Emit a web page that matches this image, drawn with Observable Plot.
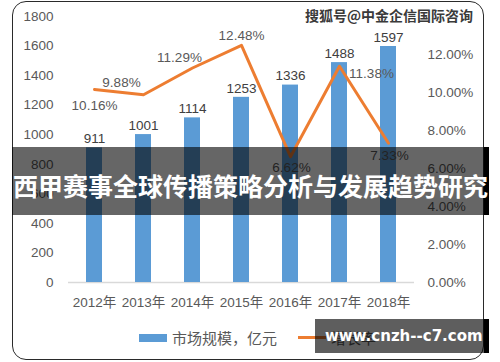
<!DOCTYPE html>
<html><head><meta charset="utf-8">
<script src="https://cdn.jsdelivr.net/npm/d3@7"></script>
<script src="https://cdn.jsdelivr.net/npm/@observablehq/plot@0.6"></script>
<style>
body{margin:0;background:#fff;}
#wrap{position:relative;width:500px;height:362px;overflow:hidden;font-family:"Liberation Sans","Noto Sans CJK SC",sans-serif;}
#frame{position:absolute;left:12px;top:1px;width:472px;height:359px;box-sizing:border-box;border:1.5px solid #2a2a2a;border-radius:14px;}
#chart{position:absolute;left:0;top:0;}
.ov{position:absolute;background:rgba(0,0,0,0.6);}
.blk{position:absolute;background:#000;}
#banner-text{position:absolute;left:13px;top:171px;line-height:28px;font-size:25px;font-weight:bold;color:#fff;font-family:"Noto Sans CJK SC",sans-serif;white-space:nowrap;}
#wm-top{position:absolute;left:305px;top:6px;font-size:14px;font-weight:bold;color:#3a3a3a;font-family:"Noto Sans CJK SC",sans-serif;white-space:nowrap;line-height:18px;background:#fff;text-shadow:-1px 0 #fff,1px 0 #fff,0 -1px #fff,0 1px #fff;}
#wm-bot{position:absolute;left:325px;top:326px;font-size:15px;font-weight:bold;color:#fff;font-family:"DejaVu Sans",sans-serif;white-space:nowrap;line-height:20px;}
.lg{position:absolute;font-size:15px;color:#595959;font-family:"Noto Sans CJK SC",sans-serif;line-height:20px;white-space:nowrap;}
</style>
</head><body>
<div id="wrap">
  <div id="frame"></div>
  <div id="chart"></div>
  <div style="position:absolute;left:139px;top:334px;width:28px;height:8px;background:#5B9BD5"></div>
  <div class="lg" style="left:172px;top:328px;">市场规模，亿元</div>
  <div style="position:absolute;left:298px;top:336px;width:28px;height:3px;background:#ED7D31"></div>
  <div class="lg" style="left:331px;top:328px;">增长率</div>
  <div class="ov" style="left:12px;top:147px;width:472px;height:68px;"></div>
  <div class="blk" style="left:484px;top:147px;width:5px;height:68px;"></div>
  <div id="banner-text">西甲赛事全球传播策略分析与发展趋势研究</div>
  <div id="wm-top">搜狐号@中金企信国际咨询</div>
  <div class="ov" style="left:315px;top:319px;width:169px;height:34px;background:rgba(0,0,0,0.63)"></div>
  <div class="blk" style="left:484px;top:319px;width:5px;height:34px;"></div>
  <div id="wm-bot">www.cnzh--c7.com</div>
</div>
<script>
const years = ["2012年","2013年","2014年","2015年","2016年","2017年","2018年"];
const marketSize = [911, 1001, 1114, 1253, 1336, 1488, 1597];
const growthRate = [10.16, 9.88, 11.29, 12.48, 6.62, 11.38, 7.33];
const leftTicks = [0, 200, 400, 600, 800, 1000, 1200, 1400, 1600, 1800];
const rightTicks = [0, 2, 4, 6, 8, 10, 12];
const rightMax = 14;

const k = 1800 / rightMax; // maps percent onto the left-axis units
const data = years.map((y, i) => ({year: y, size: marketSize[i], rate: growthRate[i]}));

// label placement for each growth-rate label (dx, dy)
const rateOffsets = [[0, 16], [-22, -12], [-13, -10], [0, -10], [1, 11], [32, 7], [1, 12]];

const textColor = "#595959";
const rateLabels = data.map((d, i) => Plot.text([d], {
  x: "year", y: r => r.rate * k, text: r => r.rate.toFixed(2) + "%",
  dx: rateOffsets[i][0], dy: rateOffsets[i][1], fill: textColor, fontSize: 13.5
}));

const chart = Plot.plot({
  width: 500, height: 362,
  marginLeft: 68, marginRight: 86, marginTop: 16, marginBottom: 80,
  style: {fontFamily: "Liberation Sans, Noto Sans CJK SC, sans-serif", fontSize: "13.5px", background: "transparent"},
  x: {domain: years, paddingInner: 0.676, paddingOuter: 0.338, axis: null},
  y: {domain: [0, 1800], axis: null},
  marks: [
    Plot.axisY(leftTicks, {anchor: "left", tickSize: 0, tickPadding: 15, fill: textColor, fontSize: 13.5, label: null,
      tickFormat: v => String(v)}),
    Plot.axisY(rightTicks.map(p => p * k), {anchor: "right", tickSize: 0, tickPadding: 13, fill: textColor, fontSize: 13.5, label: null,
      tickFormat: v => (v / k).toFixed(2) + "%"}),
    Plot.axisX({tickSize: 0, tickPadding: 15, fill: textColor, fontSize: 13.5, label: null}),
    Plot.ruleY([0], {stroke: "#d9d9d9", strokeWidth: 1.5}),
    Plot.barY(data, {x: "year", y: "size", fill: "#5B9BD5"}),
    Plot.text(data, {x: "year", y: "size", text: d => String(d.size), dy: -9, fill: "#404040", fontSize: 13.5}),
    Plot.lineY(data, {x: "year", y: d => d.rate * k, stroke: "#ED7D31", strokeWidth: 3}),
    ...rateLabels
  ]
});
document.getElementById("chart").appendChild(chart);
</script>
</body></html>
